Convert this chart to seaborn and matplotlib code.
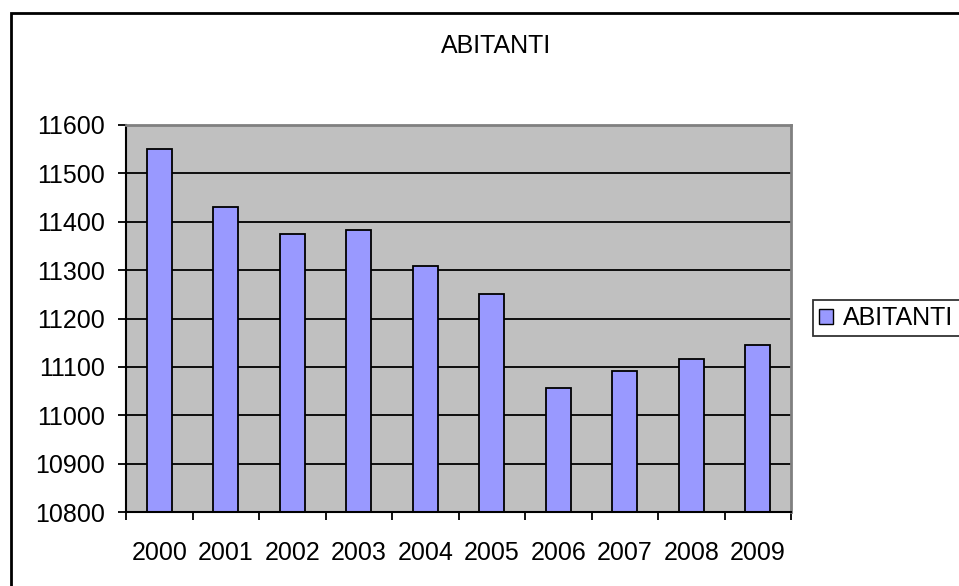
import matplotlib
matplotlib.use("Agg")
import matplotlib.pyplot as plt
import matplotlib.patches as mpatches
import pandas as pd
import seaborn as sns

# data
years = ["2000", "2001", "2002", "2003", "2004", "2005", "2006", "2007", "2008", "2009"]
abitanti = [11550, 11430, 11375, 11383, 11308, 11251, 11057, 11091, 11117, 11145]
y_ticks = [10800, 10900, 11000, 11100, 11200, 11300, 11400, 11500, 11600]

df = pd.DataFrame({"anno": years, "ABITANTI": abitanti})

plt.rcParams["font.family"] = ["Liberation Sans", "DejaVu Sans"]
fs = 18

fig = plt.figure(figsize=(9.59, 5.86), dpi=100)
ax = fig.add_axes([126 / 959, 1 - 512 / 586, (791 - 126) / 959, (512 - 125) / 586])
ax.set_facecolor("#C0C0C0")

sns.barplot(data=df, x="anno", y="ABITANTI", color="#9999FF", edgecolor="black",
            linewidth=1.3, width=0.38, saturation=1, ax=ax)

ax.set_ylim(10800, 11600)
ax.set_xlim(-0.5, len(years) - 0.5)
ax.set_yticks(y_ticks)
ax.set_xlabel("")
ax.set_ylabel("")

# horizontal black gridlines behind the bars
ax.set_axisbelow(True)
ax.yaxis.grid(True, color="black", linewidth=1.3)
ax.xaxis.grid(False)

# ticks at category boundaries, labels at centres
ax.set_xticks([i - 0.5 for i in range(len(years) + 1)], minor=True)
ax.tick_params(axis="x", which="minor", length=6, width=1.3, direction="out", color="black")
ax.tick_params(axis="x", which="major", length=0, pad=21, labelsize=fs)
ax.tick_params(axis="y", length=6, width=1.3, direction="out", pad=9, labelsize=fs)

for side in ["left", "bottom"]:
    ax.spines[side].set_color("black")
    ax.spines[side].set_linewidth(1.5)
for side in ["top", "right"]:
    ax.spines[side].set_color("#808080")
    ax.spines[side].set_linewidth(2)

fig.text(496 / 959, 1 - 46 / 586, "ABITANTI", ha="center", va="center", fontsize=fs)

leg = fig.legend(handles=[mpatches.Patch(facecolor="#9999FF", edgecolor="black", label="ABITANTI")],
                 loc="center left", bbox_to_anchor=(813 / 959, 1 - 318 / 586),
                 fontsize=fs, frameon=True, fancybox=False, handlelength=0.55, handleheight=0.55,
                 handletextpad=0.4, borderpad=0.25, borderaxespad=0)
leg.get_frame().set_edgecolor("black")
leg.get_frame().set_linewidth(1.3)

# outer chart border (cut off on right and bottom in the source)
fig.patches.append(mpatches.Rectangle((11 / 959, -0.05), 1.2, 1 - 13 / 586 + 0.05,
                                      transform=fig.transFigure, fill=False,
                                      edgecolor="black", linewidth=2))

fig.savefig("out.png", dpi=100)
